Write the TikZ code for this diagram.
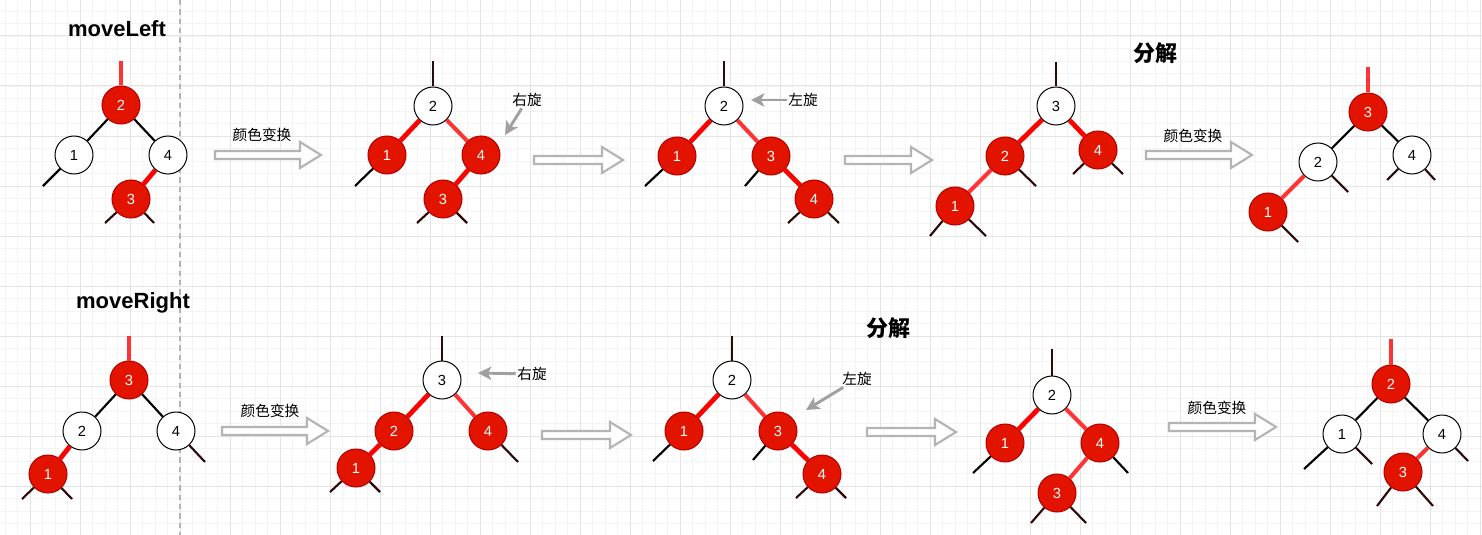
\documentclass[tikz,border=0pt]{standalone}
\usepackage{fontspec}
\setmainfont{Liberation Sans}
\newfontfamily\cjk{Noto Sans CJK SC}
\usepackage{tikz}
\usetikzlibrary{arrows.meta}
\definecolor{nodered}{RGB}{226,20,0}
\definecolor{noderim}{RGB}{178,0,0}
\definecolor{edgered}{RGB}{255,0,0}
\definecolor{edgepink}{RGB}{255,51,51}
\definecolor{leafdark}{RGB}{45,10,10}
\definecolor{gridfine}{RGB}{244,244,244}
\definecolor{gridbold}{RGB}{228,228,228}
\definecolor{arrgray}{RGB}{180,180,180}
\definecolor{ptrgray}{RGB}{160,160,160}
\tikzset{
  rednode/.style={circle, fill=nodered, draw=noderim, line width=0.75pt,
                  text=white, minimum size=28.5pt, inner sep=0pt,
                  font=\fontsize{11}{13}\selectfont},
  whitenode/.style={rednode, fill=white, draw=black, text=black},
  blackedge/.style={line width=1.6pt, black},
  rededge/.style={line width=3.6pt, edgered},
  pinkedge/.style={line width=3pt, edgepink},
  leaf/.style={line width=1.6pt, leafdark},
  leafk/.style={line width=1.6pt, black},
  hollow/.style={draw=arrgray, line width=1.6pt, fill=white},
  ptr/.style={-{Stealth[length=10pt,width=10pt,inset=2.5pt]}, line width=2.2pt, ptrgray},
  lbl/.style={font=\cjk\fontsize{11}{13}\selectfont, inner sep=1pt},
  ttl/.style={font=\bfseries\fontsize{16.5}{20}\selectfont, inner sep=0pt},
}
% hollow arrow: x, y, length
\newcommand\hollowarr[3]{%
  \draw[hollow, shift={(#1,#2)}] (0,-4) -- (#3-21,-4) -- (#3-21,-13) -- (#3,0)
    -- (#3-21,13) -- (#3-21,4) -- (0,4) -- cycle;}

\begin{document}
\begin{tikzpicture}[x=0.75pt, y=-0.75pt]
  \useasboundingbox[fill=white] (0,0) rectangle (1482,535);
  % grid
  \foreach \gx in {5,17.5,...,1482} \draw[gridfine, line width=0.6pt] (\gx,0) -- (\gx,535);
  \foreach \gy in {11,23.5,...,535} \draw[gridfine, line width=0.6pt] (0,\gy) -- (1482,\gy);
  \foreach \gx in {30,80,...,1482} \draw[gridbold, line width=0.75pt] (\gx,0) -- (\gx,535);
  \foreach \gy in {36,86,...,535} \draw[gridbold, line width=0.75pt] (0,\gy) -- (1482,\gy);
  \draw[arrgray, line width=0.9pt, dash pattern=on 4pt off 3pt] (180,0) -- (180,535);

  % ---- moveLeft ----
  \node[ttl] (left) at (117,29) {moveLeft};
  \node[rednode] (a2) at (121,105) {2};
  \node[whitenode] (a1) at (74,155) {1};
  \node[whitenode] (a4) at (168,155) {4};
  \node[rednode] (a3) at (131,199) {3};
  \coordinate (a0) at (121,61);
  \coordinate (a1l) at (43,186);
  \coordinate (a3l) at (105,223);
  \coordinate (a3r) at (154,223);
  \draw[pinkedge] (a0) -- (a2);
  \draw[blackedge] (a2) -- (a1);
  \draw[blackedge] (a2) -- (a4);
  \draw[rededge] (a4) -- (a3);
  \draw[leafk] (a1) -- (a1l);
  \draw[leaf] (a3) -- (a3l) (a3) -- (a3r);

  \hollowarr{215}{155}{106}
  \node[lbl] (flipa) at (262,135) {颜色变换};

  \node[whitenode] (b2) at (433,106) {2};
  \node[rednode] (b1) at (387,155) {1};
  \node[rednode] (b4) at (481,155) {4};
  \node[rednode] (b3) at (443,199) {3};
  \coordinate (b0) at (433,61);
  \coordinate (b1l) at (355,186);
  \coordinate (b3l) at (417,223);
  \coordinate (b3r) at (467,223);
  \draw[leaf] (b0) -- (b2);
  \draw[rededge] (b2) -- (b1);
  \draw[pinkedge] (b2) -- (b4);
  \draw[rededge] (b4) -- (b3);
  \draw[leafk] (b1) -- (b1l);
  \draw[leaf] (b3) -- (b3l) (b3) -- (b3r);
  \node[lbl] (rotb) at (527,100) {右旋};
  \coordinate (rotbtip) at (505,135);
  \draw[ptr] (rotb) -- (rotbtip);

  \hollowarr{534}{160}{89}

  \node[whitenode] (c2) at (724,106) {2};
  \node[rednode] (c1) at (677,156) {1};
  \node[rednode] (c3) at (771,156) {3};
  \node[rednode] (c4) at (814,199) {4};
  \coordinate (c0) at (724,61);
  \coordinate (c1l) at (645,186);
  \coordinate (c3l) at (745,186);
  \coordinate (c4l) at (788,223);
  \coordinate (c4r) at (839,223);
  \draw[leaf] (c0) -- (c2);
  \draw[rededge] (c2) -- (c1);
  \draw[pinkedge] (c2) -- (c3);
  \draw[rededge] (c3) -- (c4);
  \draw[leafk] (c1) -- (c1l) (c3) -- (c3l);
  \draw[leaf] (c4) -- (c4l) (c4) -- (c4r);
  \node[lbl] (rotc) at (803,100) {左旋};
  \coordinate (rotctip) at (751,100);
  \draw[ptr] (rotc) -- (rotctip);

  \hollowarr{845}{160}{87}

  \node[ttl, font=\cjk\bfseries\fontsize{16.5}{20}\selectfont] (splita) at (1155,53) {分解};
  \node[whitenode] (d3) at (1056,106) {3};
  \node[rednode] (d2) at (1005,156) {2};
  \node[rednode] (d4) at (1098,150) {4};
  \node[rednode] (d1) at (955,206) {1};
  \coordinate (d0) at (1056,62);
  \coordinate (d2r) at (1036,186);
  \coordinate (d4l) at (1073,174);
  \coordinate (d4r) at (1123,174);
  \coordinate (d1l) at (930,236);
  \coordinate (d1r) at (986,236);
  \draw[leaf] (d0) -- (d3);
  \draw[rededge] (d3) -- (d2);
  \draw[rededge] (d3) -- (d4);
  \draw[pinkedge] (d2) -- (d1);
  \draw[leaf] (d2) -- (d2r) (d4) -- (d4l) (d4) -- (d4r) (d1) -- (d1l) (d1) -- (d1r);

  \hollowarr{1146}{155}{106}
  \node[lbl] (flipd) at (1193,136) {颜色变换};

  \node[rednode] (e3) at (1368,112) {3};
  \node[whitenode] (e2) at (1318,162) {2};
  \node[whitenode] (e4) at (1412,155) {4};
  \node[rednode] (e1) at (1268,212) {1};
  \coordinate (e0) at (1368,67);
  \coordinate (e2r) at (1348,192);
  \coordinate (e4l) at (1387,180);
  \coordinate (e4r) at (1435,180);
  \coordinate (e1r) at (1298,242);
  \draw[pinkedge] (e0) -- (e3);
  \draw[blackedge] (e3) -- (e2);
  \draw[blackedge] (e3) -- (e4);
  \draw[pinkedge] (e2) -- (e1);
  \draw[leaf] (e2) -- (e2r) (e4) -- (e4l) (e4) -- (e4r) (e1) -- (e1r);

  % ---- moveRight ----
  \node[ttl] (right) at (133,303) {moveRight};
  \node[rednode] (f3) at (129,380) {3};
  \node[whitenode] (f2) at (82,431) {2};
  \node[whitenode] (f4) at (176,431) {4};
  \node[rednode] (f1) at (48,474) {1};
  \coordinate (f0) at (129,336);
  \coordinate (f4r) at (205,462);
  \coordinate (f1l) at (22,499);
  \coordinate (f1r) at (72,499);
  \draw[pinkedge] (f0) -- (f3);
  \draw[blackedge] (f3) -- (f2);
  \draw[blackedge] (f3) -- (f4);
  \draw[rededge] (f2) -- (f1);
  \draw[leaf] (f4) -- (f4r) (f1) -- (f1l) (f1) -- (f1r);

  \hollowarr{222}{431}{106}
  \node[lbl] (flipf) at (270,411) {颜色变换};

  \node[whitenode] (g3) at (442,380) {3};
  \node[rednode] (g2) at (394,431) {2};
  \node[rednode] (g4) at (488,431) {4};
  \node[rednode] (g1) at (356,468) {1};
  \coordinate (g0) at (442,336);
  \coordinate (g4r) at (518,462);
  \coordinate (g1l) at (330,492);
  \coordinate (g1r) at (380,492);
  \draw[leaf] (g0) -- (g3);
  \draw[rededge] (g3) -- (g2);
  \draw[pinkedge] (g3) -- (g4);
  \draw[rededge] (g2) -- (g1);
  \draw[leaf] (g4) -- (g4r) (g1) -- (g1l) (g1) -- (g1r);
  \node[lbl] (rotg) at (532,374) {右旋};
  \coordinate (rotgtip) at (478,373);
  \draw[ptr] (rotg) -- (rotgtip);

  \hollowarr{542}{435}{89}

  \node[ttl, font=\cjk\bfseries\fontsize{16.5}{20}\selectfont] (splith) at (888,328) {分解};
  \node[whitenode] (h2) at (732,380) {2};
  \node[rednode] (h1) at (684,431) {1};
  \node[rednode] (h3) at (778,431) {3};
  \node[rednode] (h4) at (822,474) {4};
  \coordinate (h0) at (732,336);
  \coordinate (h1l) at (653,461);
  \coordinate (h3l) at (753,460);
  \coordinate (h4l) at (796,498);
  \coordinate (h4r) at (846,498);
  \draw[leaf] (h0) -- (h2);
  \draw[rededge] (h2) -- (h1);
  \draw[pinkedge] (h2) -- (h3);
  \draw[rededge] (h3) -- (h4);
  \draw[leafk] (h1) -- (h1l) (h3) -- (h3l);
  \draw[leaf] (h4) -- (h4l) (h4) -- (h4r);
  \node[lbl] (roth) at (857,379) {左旋};
  \coordinate (rothtip) at (806,410);
  \draw[ptr] (roth) -- (rothtip);

  \hollowarr{867}{432}{89}

  \node[whitenode] (i2) at (1052,395) {2};
  \node[rednode] (i1) at (1005,443) {1};
  \node[rednode] (i4) at (1100,443) {4};
  \node[rednode] (i3) at (1057,493) {3};
  \coordinate (i0) at (1052,349);
  \coordinate (i1l) at (973,473);
  \coordinate (i4r) at (1128,473);
  \coordinate (i3l) at (1031,523);
  \coordinate (i3r) at (1086,523);
  \draw[leaf] (i0) -- (i2);
  \draw[rededge] (i2) -- (i1);
  \draw[pinkedge] (i2) -- (i4);
  \draw[pinkedge] (i4) -- (i3);
  \draw[leafk] (i1) -- (i1l) (i4) -- (i4r);
  \draw[leaf] (i3) -- (i3l) (i3) -- (i3r);

  \hollowarr{1169}{427}{107}
  \node[lbl] (flipi) at (1217,408) {颜色变换};

  \node[rednode] (j2) at (1391,384) {2};
  \node[whitenode] (j1) at (1342,434) {1};
  \node[whitenode] (j4) at (1442,434) {4};
  \node[rednode] (j3) at (1403,472) {3};
  \coordinate (j0) at (1391,339);
  \coordinate (j1l) at (1304,469);
  \coordinate (j1r) at (1372,464);
  \coordinate (j4r) at (1468,461);
  \coordinate (j3l) at (1377,506);
  \coordinate (j3r) at (1433,506);
  \draw[pinkedge] (j0) -- (j2);
  \draw[blackedge] (j2) -- (j1);
  \draw[blackedge] (j2) -- (j4);
  \draw[pinkedge] (j4) -- (j3);
  \draw[leafk] (j1) -- (j1l);
  \draw[leaf] (j1) -- (j1r) (j4) -- (j4r) (j3) -- (j3l) (j3) -- (j3r);
\end{tikzpicture}
\end{document}
